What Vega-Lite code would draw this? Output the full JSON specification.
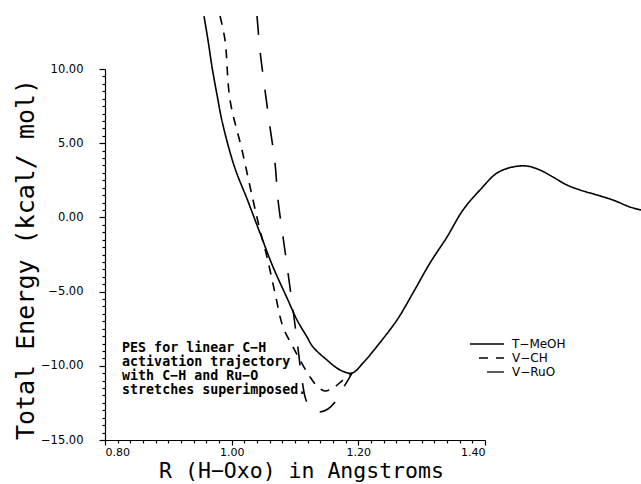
{
  "$schema": "https://vega.github.io/schema/vega-lite/v6.json",
  "width": 380,
  "height": 371,
  "autosize": {"type": "none"},
  "padding": {"left": 105, "top": 69, "right": 156, "bottom": 44},
  "background": "white",
  "config": {
    "view": {"stroke": null},
    "axis": {"grid": false, "domainColor": "black", "tickColor": "black", "labelColor": "black", "titleColor": "black", "domainWidth": 1.2, "tickWidth": 1.2, "ticks": true}
  },
  "resolve": {"axis": {"x": "independent", "y": "independent"}},
  "datasets": {
    "curves": [
      {"series": "T−MeOH", "r": 0.9563, "e": 13.57},
      {"series": "T−MeOH", "r": 0.9626, "e": 11.95},
      {"series": "T−MeOH", "r": 0.9690, "e": 10.13},
      {"series": "T−MeOH", "r": 0.9769, "e": 8.25},
      {"series": "T−MeOH", "r": 0.9855, "e": 6.36},
      {"series": "T−MeOH", "r": 1.0045, "e": 3.40},
      {"series": "T−MeOH", "r": 1.0250, "e": 1.17},
      {"series": "T−MeOH", "r": 1.0447, "e": -1.05},
      {"series": "T−MeOH", "r": 1.0653, "e": -3.34},
      {"series": "T−MeOH", "r": 1.0874, "e": -5.43},
      {"series": "T−MeOH", "r": 1.1032, "e": -6.91},
      {"series": "T−MeOH", "r": 1.1190, "e": -8.06},
      {"series": "T−MeOH", "r": 1.1284, "e": -8.73},
      {"series": "T−MeOH", "r": 1.1505, "e": -9.61},
      {"series": "T−MeOH", "r": 1.1711, "e": -10.28},
      {"series": "T−MeOH", "r": 1.1900, "e": -10.49},
      {"series": "T−MeOH", "r": 1.2074, "e": -9.81},
      {"series": "T−MeOH", "r": 1.2311, "e": -8.60},
      {"series": "T−MeOH", "r": 1.2611, "e": -6.91},
      {"series": "T−MeOH", "r": 1.2863, "e": -5.09},
      {"series": "T−MeOH", "r": 1.3132, "e": -3.07},
      {"series": "T−MeOH", "r": 1.3400, "e": -1.32},
      {"series": "T−MeOH", "r": 1.3653, "e": 0.50},
      {"series": "T−MeOH", "r": 1.3921, "e": 1.85},
      {"series": "T−MeOH", "r": 1.4190, "e": 2.99},
      {"series": "T−MeOH", "r": 1.4442, "e": 3.40},
      {"series": "T−MeOH", "r": 1.4663, "e": 3.46},
      {"series": "T−MeOH", "r": 1.4869, "e": 3.19},
      {"series": "T−MeOH", "r": 1.5074, "e": 2.72},
      {"series": "T−MeOH", "r": 1.5295, "e": 2.18},
      {"series": "T−MeOH", "r": 1.5500, "e": 1.85},
      {"series": "T−MeOH", "r": 1.5768, "e": 1.51},
      {"series": "T−MeOH", "r": 1.6021, "e": 1.17},
      {"series": "T−MeOH", "r": 1.6290, "e": 0.70},
      {"series": "T−MeOH", "r": 1.6464, "e": 0.50},
      {"series": "V−CH", "r": 0.9816, "e": 13.57},
      {"series": "V−CH", "r": 0.9895, "e": 11.95},
      {"series": "V−CH", "r": 0.9974, "e": 7.91},
      {"series": "V−CH", "r": 1.0163, "e": 4.54},
      {"series": "V−CH", "r": 1.0337, "e": 1.17},
      {"series": "V−CH", "r": 1.0447, "e": -0.85},
      {"series": "V−CH", "r": 1.0558, "e": -2.67},
      {"series": "V−CH", "r": 1.0684, "e": -5.09},
      {"series": "V−CH", "r": 1.0811, "e": -7.39},
      {"series": "V−CH", "r": 1.0969, "e": -8.73},
      {"series": "V−CH", "r": 1.1079, "e": -9.61},
      {"series": "V−CH", "r": 1.1237, "e": -10.75},
      {"series": "V−CH", "r": 1.1363, "e": -11.43},
      {"series": "V−CH", "r": 1.1474, "e": -11.70},
      {"series": "V−CH", "r": 1.1600, "e": -11.50},
      {"series": "V−CH", "r": 1.1758, "e": -10.96},
      {"series": "V−CH", "r": 1.1900, "e": -10.49},
      {"series": "V−RuO", "r": 1.0400, "e": 13.57},
      {"series": "V−RuO", "r": 1.0447, "e": 11.28},
      {"series": "V−RuO", "r": 1.0526, "e": 8.58},
      {"series": "V−RuO", "r": 1.0605, "e": 6.09},
      {"series": "V−RuO", "r": 1.0684, "e": 3.67},
      {"series": "V−RuO", "r": 1.0732, "e": 1.17},
      {"series": "V−RuO", "r": 1.0811, "e": -1.32},
      {"series": "V−RuO", "r": 1.0890, "e": -3.75},
      {"series": "V−RuO", "r": 1.0969, "e": -6.24},
      {"series": "V−RuO", "r": 1.1047, "e": -8.80},
      {"series": "V−RuO", "r": 1.1111, "e": -10.96},
      {"series": "V−RuO", "r": 1.1174, "e": -12.30},
      {"series": "V−RuO", "r": 1.1269, "e": -12.98},
      {"series": "V−RuO", "r": 1.1395, "e": -13.11},
      {"series": "V−RuO", "r": 1.1521, "e": -12.91},
      {"series": "V−RuO", "r": 1.1632, "e": -12.44},
      {"series": "V−RuO", "r": 1.1742, "e": -11.63},
      {"series": "V−RuO", "r": 1.1837, "e": -10.96},
      {"series": "V−RuO", "r": 1.1900, "e": -10.49}
    ]
  },
  "layer": [
    {
      "data": {"name": "curves"},
      "mark": {"type": "line", "interpolate": "catmull-rom", "strokeWidth": 1.6, "color": "black", "clip": false},
      "encoding": {
        "x": {
          "field": "r", "type": "quantitative",
          "scale": {"domain": [0.8, 1.4], "nice": false, "zero": false},
          "axis": {
            "orient": "bottom",
            "values": [0.8,0.82,0.84,0.86,0.88,0.9,0.92,0.94,0.96,0.98,1.0,1.02,1.04,1.06,1.08,1.1,1.12,1.14,1.16,1.18,1.2,1.22,1.24,1.26,1.28,1.3,1.32,1.34,1.36,1.38,1.4],
            "format": ".2f",
            "labelExpr": "abs(datum.value*5 - round(datum.value*5)) < 0.001 ? datum.label : ''",
            "labelFont": "DejaVu Sans", "labelFontSize": 11, "labelPadding": 1, "labelBaseline": "top",
            "labelOverlap": false,
            "tickSize": {"condition": {"test": "abs(datum.value*5 - round(datum.value*5)) < 0.001", "value": 5}, "value": 3},
            "title": "R (H−Oxo) in Angstroms",
            "titleFont": "DejaVu Sans Mono", "titleFontSize": 21.5, "titleFontWeight": "normal",
            "titleX": 196, "titleY": 37.5, "titleBaseline": "alphabetic", "titleAlign": "center"
          }
        },
        "y": {
          "field": "e", "type": "quantitative",
          "scale": {"domain": [-15, 10], "nice": false, "zero": false},
          "axis": {
            "orient": "left",
            "values": [-15,-14.5,-14,-13.5,-13,-12.5,-12,-11.5,-11,-10.5,-10,-9.5,-9,-8.5,-8,-7.5,-7,-6.5,-6,-5.5,-5,-4.5,-4,-3.5,-3,-2.5,-2,-1.5,-1,-0.5,0,0.5,1,1.5,2,2.5,3,3.5,4,4.5,5,5.5,6,6.5,7,7.5,8,8.5,9,9.5,10],
            "format": ".2f",
            "labelExpr": "abs(datum.value/5 - round(datum.value/5)) < 0.001 ? datum.label : ''",
            "labelFont": "DejaVu Sans", "labelFontSize": 11.5, "labelPadding": 16,
            "labelOverlap": false,
            "tickSize": {"condition": {"test": "abs(datum.value/5 - round(datum.value/5)) < 0.001", "value": 6}, "value": 3},
            "title": "Total Energy (kcal/ mol)",
            "titleFont": "DejaVu Sans Mono", "titleFontSize": 25, "titleFontWeight": "normal",
            "titleX": -72, "titleY": 190, "titleAngle": -90, "titleBaseline": "alphabetic", "titleAlign": "center"
          }
        },
        "strokeDash": {
          "field": "series", "type": "nominal",
          "scale": {"domain": ["T−MeOH", "V−CH", "V−RuO"], "range": [[1, 0], [9, 8], [19, 18]]},
          "legend": {
            "title": null, "orient": "none", "legendX": 389, "legendY": 269,
            "padding": 0, "offset": 0,
            "symbolType": "M-7.5,0H1", "symbolSize": 64,
            "symbolStrokeColor": "black", "symbolStrokeWidth": 1.3, "symbolFillColor": "transparent",
            "labelFont": "DejaVu Sans", "labelFontSize": 12, "labelColor": "black", "labelOffset": 6,
            "rowPadding": 2,
            "encode": {
              "symbols": {
                "update": {
                  "shape": {"signal": "datum.value === 'T−MeOH' ? 'M-7.5,0H1' : (datum.value === 'V−CH' ? 'M-5.25,0H1' : 'M-3.25,0H1')"}
                }
              }
            }
          }
        }
      }
    },
    {
      "data": {"values": [{}]},
      "mark": {
        "type": "text", "align": "left", "baseline": "alphabetic",
        "font": "DejaVu Sans Mono", "fontSize": 13.3, "fontWeight": "bold", "lineHeight": 14, "color": "black",
        "text": ["PES for linear C−H", "activation trajectory", "with C−H and Ru−O", "stretches superimposed."]
      },
      "encoding": {
        "x": {"datum": 0.827, "type": "quantitative", "axis": null},
        "y": {"datum": -9.07, "type": "quantitative", "axis": null}
      }
    }
  ]
}
